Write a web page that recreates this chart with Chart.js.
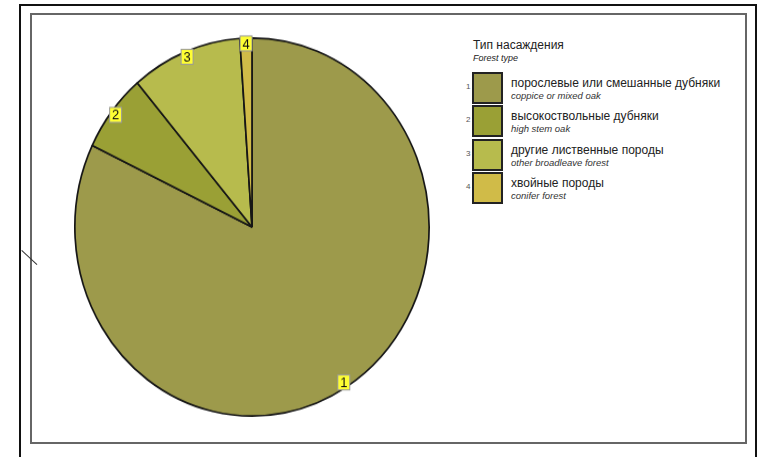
<!DOCTYPE html>
<html>
<head>
<meta charset="utf-8">
<script src="https://cdn.jsdelivr.net/npm/chart.js@4"></script>
<style>
    body { margin: 0; background: #fff; width: 759px; height: 457px; position: relative; overflow: hidden; font-family: 'Liberation Sans', Arial, sans-serif; }
    .outer { position: absolute; left: 19px; top: 4px; width: 734px; height: 470px; border: 2px solid #111; border-bottom: none; }
    .inner { position: absolute; left: 30px; top: 13px; width: 713px; height: 427px; border: 2px solid #666; }
    .stray { position: absolute; left: 22px; top: 250px; width: 21px; height: 1px; background: #333; transform-origin: 0 0; transform: rotate(43deg); }
    .pie-box { position: absolute; left: 71px; top: 46px; width: 362px; height: 362px; transform: scale(1, 1.067); transform-origin: 50% 50%; }
    .legend { position: absolute; left: 466px; top: 38px; color: #222; }
    .legend .title { margin-left: 7px; font-size: 12px; line-height: 15px; }
    .legend .subtitle { margin-left: 7px; font-size: 9px; font-style: italic; line-height: 11px; margin-bottom: 8px; }
    .row { position: relative; height: 31px; margin-bottom: 2.3px; }
    .row .num { position: absolute; left: 0; top: 10px; font-size: 8px; color: #555; }
    .row .swatch { position: absolute; left: 6px; top: 0; width: 27px; height: 28px; border: 2px solid #222; }
    .row .ru { position: absolute; left: 45px; top: 4px; font-size: 12px; line-height: 14px; white-space: nowrap; }
    .row .en { position: absolute; left: 45px; top: 18px; font-size: 9.5px; font-style: italic; line-height: 11px; white-space: nowrap; color: #333; }
</style>
</head>
<body>
<div class="outer"></div>
<div class="inner"></div>
<div class="stray"></div>
<div class="pie-box"><canvas id="forestPie" width="362" height="362"></canvas></div>
<div class="legend" id="legend"></div>
<script>
// Forest type shares (%)
const categories = ['1', '2', '3', '4'];
const namesRu = ['порослевые или смешанные дубняки', 'высокоствольные дубняки', 'другие лиственные породы', 'хвойные породы'];
const namesEn = ['coppice or mixed oak', 'high stem oak', 'other broadleave forest', 'conifer forest'];
const shares = [82.1, 6.7, 10.1, 1.1];
const colors = ['#9d9a4b', '#9aa035', '#b7bb4d', '#d0bb48'];

// Legend (HTML, two-line labels)
const legendEl = document.getElementById('legend');
let html = '<div class="title">Тип насаждения</div><div class="subtitle">Forest type</div>';
categories.forEach(function(cat, i) {
    html += '<div class="row"><span class="num">' + cat + '</span>' +
        '<div class="swatch" style="background:' + colors[i] + '"></div>' +
        '<div class="ru">' + namesRu[i] + '</div>' +
        '<div class="en">' + namesEn[i] + '</div></div>';
});
legendEl.innerHTML = html;

// Yellow number tags on the rim of each slice
const sliceTags = {
    id: 'sliceTags',
    afterDatasetsDraw(chart) {
        const ctx = chart.ctx;
        const meta = chart.getDatasetMeta(0);
        ctx.save();
        ctx.font = '13px "Liberation Sans", Arial, sans-serif';
        ctx.textAlign = 'center';
        ctx.textBaseline = 'middle';
        meta.data.forEach(function(arc, i) {
            const p = arc.getProps(['x', 'y', 'startAngle', 'endAngle', 'outerRadius'], true);
            const mid = (p.startAngle + p.endAngle) / 2;
            const r = p.outerRadius - 5;
            const x = p.x + Math.cos(mid) * r;
            const y = p.y + Math.sin(mid) * r;
            ctx.fillStyle = '#ffff33';
            ctx.fillRect(x - 6, y - 7, 12, 14);
            ctx.strokeStyle = '#999';
            ctx.lineWidth = 1;
            ctx.strokeRect(x - 6, y - 7, 12, 14);
            ctx.fillStyle = '#111';
            ctx.fillText(categories[i], x, y + 1);
        });
        ctx.restore();
    }
};

const pieCtx = document.getElementById('forestPie').getContext('2d');
const pieChart = new Chart(pieCtx, {
    type: 'pie',
    data: {
        labels: categories,
        datasets: [{
            data: shares,
            backgroundColor: colors,
            borderColor: '#161616',
            borderWidth: 1.7
        }]
    },
    options: {
        responsive: false,
        animation: false,
        layout: { padding: 3 },
        plugins: {
            legend: { display: false },
            tooltip: { enabled: false }
        }
    },
    plugins: [sliceTags]
});
</script>
</body>
</html>
